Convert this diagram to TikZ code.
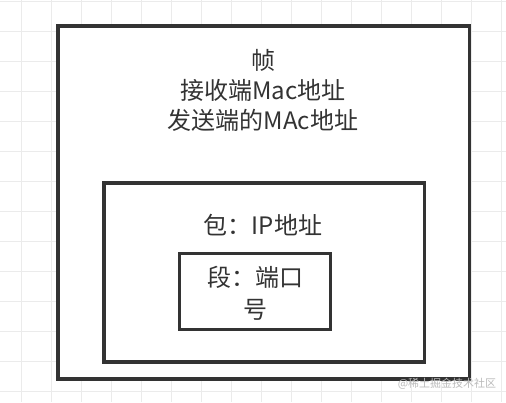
\documentclass[tikz,border=0pt]{standalone}
\usepackage{fontspec}
\setmainfont{Noto Sans CJK SC}
\definecolor{ink}{HTML}{333333}
\definecolor{gridgrey}{HTML}{EBEBEB}
\definecolor{markgrey}{HTML}{BBBBBB}

\begin{document}
\begin{tikzpicture}[x=1pt, y=-1pt,
        box/.style={draw=ink, line width=3.5pt, fill=white},
        label/.style={text=ink, font=\fontsize{24}{30}\selectfont, align=center, inner sep=0pt}]
        \useasboundingbox (0,0) rectangle (506,402);
        \fill[white] (0,0) rectangle (506,402);
        % grid
        \foreach \x in {21.5, 51.5, ..., 501.5}
            \draw[gridgrey, line width=1pt] (\x,0) -- (\x,402);
        \foreach \y in {1.5, 31.5, ..., 391.5}
            \draw[gridgrey, line width=1pt] (0,\y) -- (506,\y);
        % nested boxes
        \draw[box] (58,26) rectangle (469.5,379);
        \draw[box] (104,183) rectangle (424.5,362);
        \draw[box] (179.5,253.5) rectangle (330.5,329.5);
        \node[label] (frame) at (263,90) {帧\\接收端Mac地址\\发送端的MAc地址};
        \node[label] (packet) at (263,225) {包：IP地址};
        \node[label, font=\fontsize{24}{31.5}\selectfont] (segment) at (255,293.5) {段：端口\\号};
        \node[text=markgrey, font=\fontsize{11}{13}\selectfont, inner sep=0pt] (mark) at (447,384) {@稀土掘金技术社区};
    \end{tikzpicture}
\end{document}
